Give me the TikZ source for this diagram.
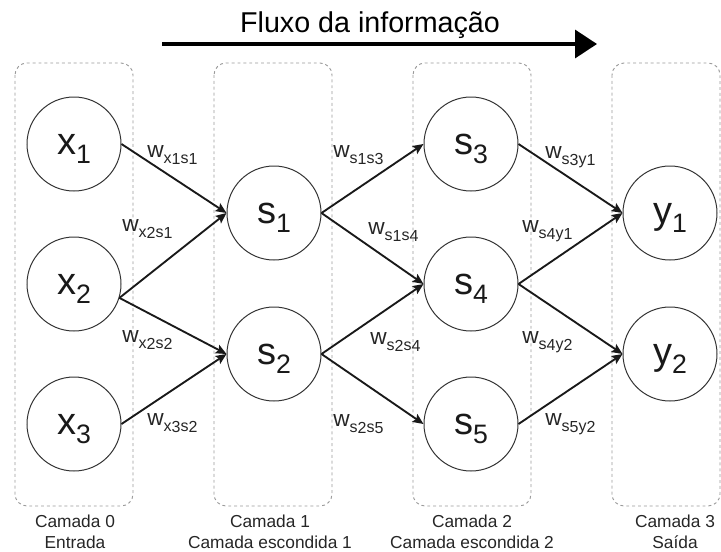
\documentclass[tikz,border=0pt]{standalone}
\usepackage{fontspec}
\setmainfont{Liberation Sans}
\usetikzlibrary{arrows.meta}

% neuron label: letter with a lowered index
\newcommand\nlab[2]{\fontsize{28.5}{28.5}\selectfont #1\raisebox{-6.75pt}{\fontsize{20}{20}\selectfont #2}}
% weight label: w with a two-part index, each part a letter and a number
\newcommand\wlab[4]{\fontsize{17}{17}\selectfont w\raisebox{-4.5pt}{\fontsize{12}{12}\selectfont #1\raisebox{-1pt}{#2}#3\raisebox{-1pt}{#4}}}

\tikzset{
  layerbox/.style={draw=black!40, dash pattern=on 2.2pt off 2.2pt, line width=0.7pt, rounded corners=9pt},
  neuron/.style={circle, draw=black!80, line width=0.75pt, minimum size=70.5pt, inner sep=0pt,
                 text height=18.75pt, text depth=3.75pt, text=black!90},
  conn/.style={-{Stealth[length=8pt,width=7pt,inset=1.5pt]}, line width=1.4pt, draw=black!90},
  wtext/.style={anchor=base west, inner sep=0pt, text=black!85},
  captext/.style={anchor=base, inner sep=0pt, font=\fontsize{13}{13}\selectfont, text=black!85}
}

\begin{document}
\begin{tikzpicture}[x=0.75pt,y=-0.75pt]
\useasboundingbox (0,0) rectangle (721,551);

% direction of information flow
\node[anchor=base, inner sep=0pt, font=\fontsize{21.5}{21.5}\selectfont] (title) at (370,32) {Fluxo da informação};
\coordinate (flowA) at (162,44);
\coordinate (flowB) at (597,44);
\draw[line width=2.6pt, -{Triangle[length=16.5pt,width=21pt]}] (flowA) -- (flowB);

% layer frames
\draw[layerbox] (15,63) rectangle (133,506);
\draw[layerbox] (214,63) rectangle (332,506);
\draw[layerbox] (413,63) rectangle (531,506);
\draw[layerbox] (612,63) rectangle (720,506);

% neurons
\node[neuron] (x1) at (74,144) {\nlab{x}{1}};
\node[neuron] (x2) at (74,284) {\nlab{x}{2}};
\node[neuron] (x3) at (74,424) {\nlab{x}{3}};
\node[neuron] (s1) at (274,213) {\nlab{s}{1}};
\node[neuron] (s2) at (274,354) {\nlab{s}{2}};
\node[neuron] (s3) at (471,144) {\nlab{s}{3}};
\node[neuron] (s4) at (471,284) {\nlab{s}{4}};
\node[neuron] (s5) at (471,424) {\nlab{s}{5}};
\node[neuron] (y1) at (670,213) {\nlab{y}{1}};
\node[neuron] (y2) at (670,354) {\nlab{y}{2}};

% connections
\draw[conn] (x1.east) -- (s1.west);
\draw[conn] (x2.-17) -- (s1.west);
\draw[conn] (x2.-17) -- (s2.west);
\draw[conn] (x3.east) -- (s2.west);
\draw[conn] (s1.east) -- (s3.west);
\draw[conn] (s1.east) -- (s4.west);
\draw[conn] (s2.east) -- (s4.west);
\draw[conn] (s2.east) -- (s5.west);
\draw[conn] (s3.east) -- (y1.west);
\draw[conn] (s4.east) -- (y1.west);
\draw[conn] (s4.east) -- (y2.west);
\draw[conn] (s5.east) -- (y2.west);

% weights
\node[wtext] (wx1s1) at (147,157) {\wlab{x}{1}{s}{1}};
\node[wtext] (wx2s1) at (122,231) {\wlab{x}{2}{s}{1}};
\node[wtext] (wx2s2) at (122,342) {\wlab{x}{2}{s}{2}};
\node[wtext] (wx3s2) at (147,425) {\wlab{x}{3}{s}{2}};
\node[wtext] (ws1s3) at (333,157) {\wlab{s}{1}{s}{3}};
\node[wtext] (ws1s4) at (368,234) {\wlab{s}{1}{s}{4}};
\node[wtext] (ws2s4) at (370,344) {\wlab{s}{2}{s}{4}};
\node[wtext] (ws2s5) at (333,426) {\wlab{s}{2}{s}{5}};
\node[wtext] (ws3y1) at (545,158) {\wlab{s}{3}{y}{1}};
\node[wtext] (ws4y1) at (522,232) {\wlab{s}{4}{y}{1}};
\node[wtext] (ws4y2) at (522,343) {\wlab{s}{4}{y}{2}};
\node[wtext] (ws5y2) at (545,425) {\wlab{s}{5}{y}{2}};

% layer captions
\node[captext] (cap0a) at (75,527) {Camada 0};
\node[captext] (cap0b) at (75,548) {Entrada};
\node[captext] (cap1a) at (270,527) {Camada 1};
\node[captext] (cap1b) at (270,548) {Camada escondida 1};
\node[captext] (cap2a) at (472,527) {Camada 2};
\node[captext] (cap2b) at (472,548) {Camada escondida 2};
\node[captext] (cap3a) at (675,527) {Camada 3};
\node[captext] (cap3b) at (675,548) {Saída};
\end{tikzpicture}
\end{document}
